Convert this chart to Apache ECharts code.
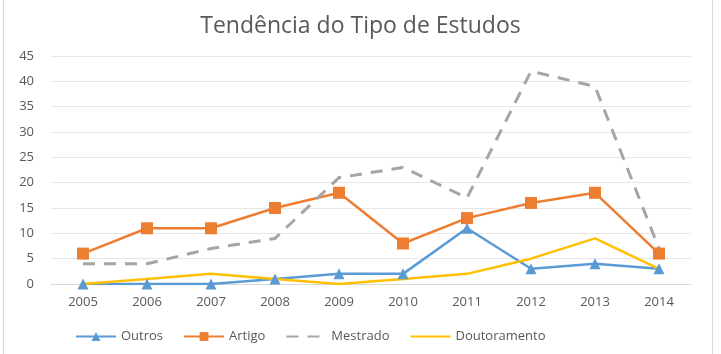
<!DOCTYPE html>
<html>
<head>
<meta charset="utf-8">
<script src="https://cdn.jsdelivr.net/npm/echarts@6/dist/echarts.min.js"></script>
<style>
  html, body { margin: 0; padding: 0; background: #fff; }
  #chart { width: 721px; height: 354px; }
</style>
</head>
<body>
<div id="chart"></div>
<script>
const years = ['2005', '2006', '2007', '2008', '2009', '2010', '2011', '2012', '2013', '2014'];
const outros = [0, 0, 0, 1, 2, 2, 11, 3, 4, 3];
const artigo = [6, 11, 11, 15, 18, 8, 13, 16, 18, 6];
const mestrado = [4, 4, 7, 9, 21, 23, 17, 42, 39, 7];
const doutoramento = [0, 1, 2, 1, 0, 1, 2, 5, 9, 3];

const chart = echarts.init(document.getElementById('chart'));
const font = 'Open Sans';

let option = {
  animation: false,
  textStyle: { fontFamily: font },
  title: {
    text: 'Tendência do Tipo de Estudos',
    left: 'center',
    top: 10,
    textStyle: { fontSize: 23, fontWeight: 'normal', color: '#595959', fontFamily: font }
  },
  // thin frame lines on the left and right like the original picture
  graphic: [
    { type: 'line', shape: { x1: 3.5, y1: 0, x2: 3.5, y2: 354 }, style: { stroke: '#d9d9d9', lineWidth: 1 }, silent: true },
    { type: 'line', shape: { x1: 712.5, y1: 0, x2: 712.5, y2: 354 }, style: { stroke: '#d9d9d9', lineWidth: 1 }, silent: true }
  ],
  grid: { left: 51, right: 30, top: 56, bottom: 70, containLabel: false },
  xAxis: {
    type: 'category',
    data: years,
    boundaryGap: true,
    axisLine: { show: true, lineStyle: { color: '#d9d9d9' } },
    axisTick: { show: false },
    axisLabel: { color: '#595959', fontSize: 13, margin: 12 }
  },
  yAxis: {
    type: 'value',
    min: 0,
    max: 45,
    interval: 5,
    axisLine: { show: false },
    axisTick: { show: false },
    axisLabel: { color: '#595959', fontSize: 13, margin: 17 },
    splitLine: { lineStyle: { color: '#e6e6e6' } }
  },
  legend: {
    bottom: 6,
    left: 70,
    itemWidth: 40,
    itemHeight: 11,
    itemGap: 20,
    textStyle: { color: '#595959', fontSize: 13 },
    data: [
      { name: 'Outros' },
      { name: 'Artigo' },
      { name: 'Mestrado', itemStyle: { opacity: 0 } },
      { name: 'Doutoramento', itemStyle: { opacity: 0 } }
    ]
  },
  series: [
    {
      name: 'Outros', type: 'line', data: outros,
      symbol: 'triangle', symbolSize: 11,
      lineStyle: { color: '#5B9BD5', width: 2.5 },
      itemStyle: { color: '#5B9BD5' }
    },
    {
      name: 'Artigo', type: 'line', data: artigo,
      symbol: 'rect', symbolSize: 12,
      lineStyle: { color: '#ED7D31', width: 2.5 },
      itemStyle: { color: '#ED7D31' }
    },
    {
      name: 'Mestrado', type: 'line', data: mestrado,
      symbol: 'none',
      lineStyle: { color: '#A5A5A5', width: 3, type: [12, 9] },
      itemStyle: { color: '#A5A5A5' }
    },
    {
      name: 'Doutoramento', type: 'line', data: doutoramento,
      symbol: 'none',
      lineStyle: { color: '#FFC000', width: 2.5 },
      itemStyle: { color: '#FFC000' }
    }
  ]
};

chart.setOption(option);
</script>
</body>
</html>
